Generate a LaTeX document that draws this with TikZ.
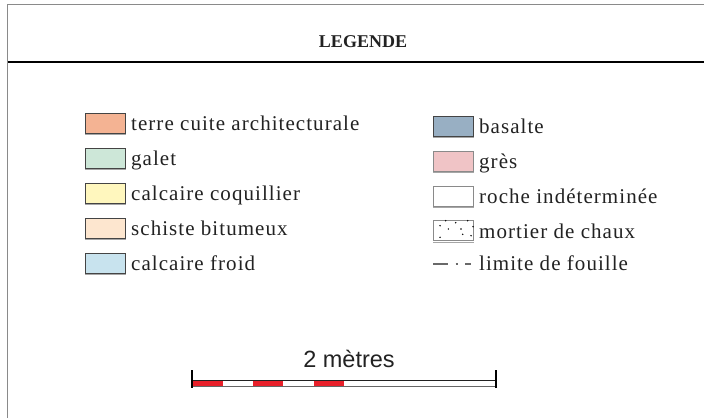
\documentclass[tikz,border=0pt]{standalone}
\usepackage{fontspec}
\setmainfont{Liberation Serif}
\newfontfamily\lab[LetterSpace=5]{Liberation Serif}
\newfontfamily\ttl{Liberation Serif}
\newfontfamily\scl{Liberation Sans}
\definecolor{cTerre}{HTML}{F4B393}
\definecolor{cGalet}{HTML}{CDE7D8}
\definecolor{cCoq}{HTML}{FFF7BE}
\definecolor{cSchiste}{HTML}{FDE6CF}
\definecolor{cFroid}{HTML}{C8E3EE}
\definecolor{cBasalte}{HTML}{98AFC3}
\definecolor{cGres}{HTML}{F0C4C6}
\definecolor{swb}{HTML}{444444}
\definecolor{swl}{HTML}{8A8A8A}
\definecolor{frameg}{HTML}{8A8A8A}
\definecolor{textc}{HTML}{222222}
\definecolor{barred}{HTML}{E8202A}
\begin{document}
\begin{tikzpicture}[x=1pt,y=-1pt,
  swatch/.style={draw=swb, line width=0.9pt, minimum width=40pt, minimum height=20pt, inner sep=0pt, fill=#1},
  swatchl/.style={swatch=#1, draw=swl},
  shadowl/.style={draw=black!35, line width=0.9pt},
  lbl/.style={anchor=base west, inner sep=0pt, text=textc, font=\lab\fontsize{21}{25}\selectfont},
  framel/.style={draw=frameg, line width=1.5pt},
  lim/.style={draw=swb!80, line width=1.6pt},
  tick/.style={draw=black, line width=2pt},
  redseg/.style={fill=barred, draw=none}]
\useasboundingbox (0,0) rectangle (704,418);
\fill[white] (0,0) rectangle (704,418);
% frame
\coordinate (ftl) at (7.5,4.3);
\coordinate (ftr) at (704,4.3);
\coordinate (fbl) at (7.5,418);
\coordinate (hl) at (7.5,62);
\coordinate (hr) at (704,62);
\draw[framel] (fbl) -- (ftl) -- (ftr);
\draw[black, line width=1.1pt] (hl) -- (hr);
\node[font=\ttl\bfseries\fontsize{18}{20}\selectfont, text=textc, inner sep=0pt] (title) at (363,42) {LEGENDE};
% left column
\node[swatch=cTerre] (s1) at (105,123) {};
\node[lbl] (l1) at (131,130.5) {terre cuite architecturale};
\node[swatch=cGalet] (s2) at (105,158) {};
\node[lbl] (l2) at (131,165.5) {galet};
\node[swatch=cCoq] (s3) at (105,193) {};
\node[lbl] (l3) at (131,200.5) {calcaire coquillier};
\node[swatch=cSchiste] (s4) at (105,228) {};
\node[lbl] (l4) at (131,235.5) {schiste bitumeux};
\node[swatch=cFroid] (s5) at (105,263) {};
\node[lbl] (l5) at (131,270.5) {calcaire froid};
% right column
\node[swatch=cBasalte] (r1) at (453,126) {};
\node[lbl] (m1) at (479,133.5) {basalte};
\node[swatchl=cGres] (r2) at (453,161) {};
\node[lbl] (m2) at (479,168.5) {grès};
\node[swatchl=white] (r3) at (453,196) {};
\node[lbl] (m3) at (479,203.5) {roche indéterminée};
\node[swatchl=white, line width=0.7pt] (r4) at (453,230.5) {};
\node[lbl] (m4) at (479,238) {mortier de chaux};
\foreach \n in {s1,s2,s3,s4,s5,r1,r2,r3,r4}
  \draw[shadowl] ([xshift=0.5pt,yshift=-1.3pt]\n.south west) -- ([xshift=0.5pt,yshift=-1.3pt]\n.south east);
\foreach \p in {(440,225.7),(455.7,222.7),(467.7,220.7),(448.3,229),(461,229),(473,226.7),(462.7,234.3),(471,235.7),(440,237.3),(445.7,220.7)}
  \fill[black] \p circle (0.8);
\coordinate (la) at (433,264);
\coordinate (lb) at (448,264);
\coordinate (lc) at (455.5,264);
\coordinate (ld) at (458,264);
\coordinate (le) at (465,264);
\coordinate (lf) at (470.5,264);
\draw[lim] (la) -- (lb) (lc) -- (ld) (le) -- (lf);
\node[lbl] (m5) at (479,270) {limite de fouille};
% scale bar
\node[anchor=base, inner sep=0pt, text=textc, font=\scl\fontsize{23.5}{28}\selectfont] (st) at (349,367) {2 mètres};
\coordinate (t1a) at (192,370);
\coordinate (t1b) at (192,387.5);
\coordinate (t2a) at (495.5,370);
\coordinate (t2b) at (495.5,387.5);
\coordinate (bt1) at (192,380.5);
\coordinate (bt2) at (495.5,380.5);
\coordinate (bb1) at (192,386.7);
\coordinate (bb2) at (495.5,386.7);
\fill[redseg] (193,381) rectangle (223,386);
\fill[redseg] (253,381) rectangle (283,386);
\fill[redseg] (314,381) rectangle (344,386);
\draw[draw=textc, line width=0.8pt] (bt1) -- (bt2);
\draw[draw=black!60, line width=1.5pt] (bb1) -- (bb2);
\draw[tick] (t1a) -- (t1b);
\draw[tick] (t2a) -- (t2b);
\end{tikzpicture}
\end{document}
